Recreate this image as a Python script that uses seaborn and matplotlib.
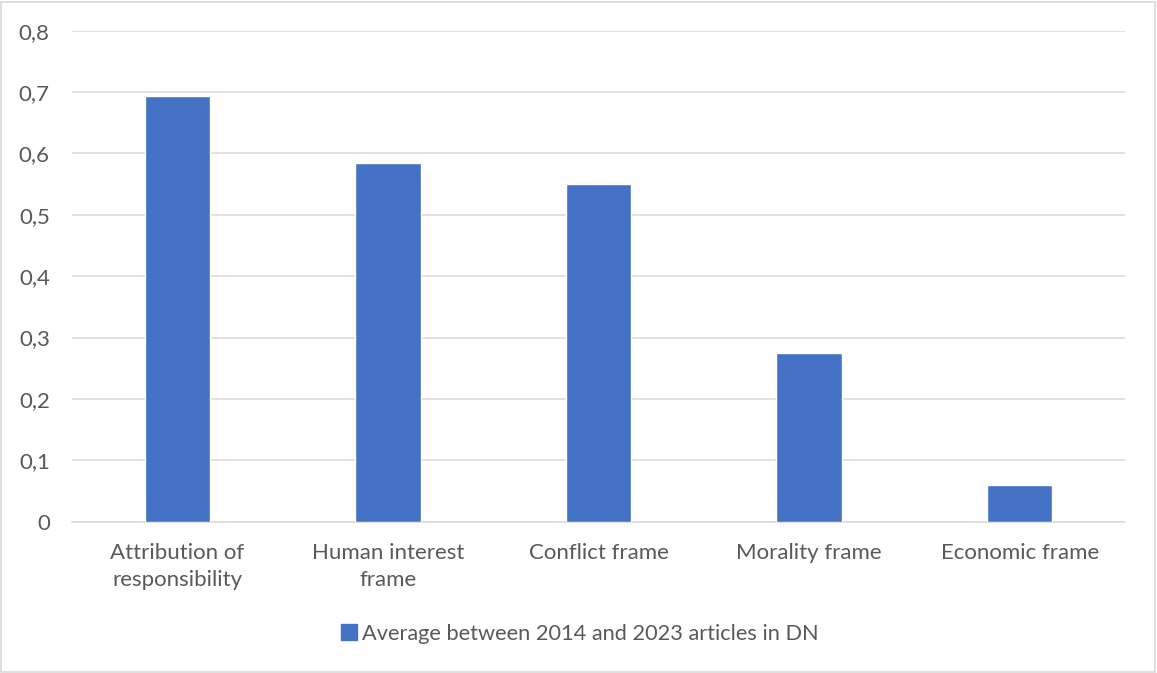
import matplotlib
matplotlib.use("Agg")
import matplotlib.pyplot as plt
import seaborn as sns
import pandas as pd
from matplotlib.patches import Rectangle
from matplotlib.lines import Line2D

categories = ["Attribution of\nresponsibility", "Human interest\nframe", "Conflict frame",
              "Morality frame", "Economic frame"]
values = [0.693, 0.584, 0.550, 0.275, 0.060]
series_name = "Average between 2014 and 2023 articles in DN"
yticks = [0, 0.1, 0.2, 0.3, 0.4, 0.5, 0.6, 0.7, 0.8]
ytick_labels = ["0", "0,1", "0,2", "0,3", "0,4", "0,5", "0,6", "0,7", "0,8"]

bar_color = "#4472C4"
text_color = "#595959"
grid_color = "#D9D9D9"

sns.set_theme(style="white")
plt.rcParams["font.family"] = ["Lato", "DejaVu Sans"]

df = pd.DataFrame({"frame": categories, "value": values})

fig = plt.figure(figsize=(11.57, 6.73), dpi=100)
ax = fig.add_axes([72 / 1157, 1 - 521.7 / 673, (1125 - 72) / 1157, (521.7 - 30.7) / 673])

sns.barplot(data=df, x="frame", y="value", color=bar_color, width=0.31,
            saturation=1, ax=ax, zorder=3)

ax.set_ylim(0, 0.8)
ax.set_xlim(-0.5, len(categories) - 0.5)
ax.set_yticks(yticks)
ax.set_yticklabels(ytick_labels)
ax.yaxis.grid(True, color=grid_color, linewidth=1.1, zorder=0)
ax.set_axisbelow(True)
for s in ["top", "right", "left"]:
    ax.spines[s].set_visible(False)
ax.spines["bottom"].set_color(grid_color)
ax.spines["bottom"].set_linewidth(1.1)
ax.tick_params(axis="both", length=0, labelsize=16, colors=text_color)
ax.tick_params(axis="y", pad=16)
ax.tick_params(axis="x", pad=15)
for lbl in ax.get_xticklabels():
    lbl.set_linespacing(1.45)
ax.set_xlabel("")
ax.set_ylabel("")

handle = Line2D([], [], marker="s", linestyle="none", markersize=11,
                markerfacecolor=bar_color, markeredgecolor=bar_color)
fig.legend([handle], [series_name], loc="center", bbox_to_anchor=(0.5, 1 - 634 / 673),
           frameon=False, fontsize=15.7, labelcolor=text_color,
           handletextpad=0.1, handlelength=1.0)

# light frame around the whole chart area
fig.patches.append(Rectangle((1 / 1157, 1 / 673), 1 - 3 / 1157, 1 - 3 / 673,
                             transform=fig.transFigure, fill=False,
                             edgecolor=grid_color, linewidth=1.2))

fig.savefig("out.png", dpi=100, facecolor="white")
